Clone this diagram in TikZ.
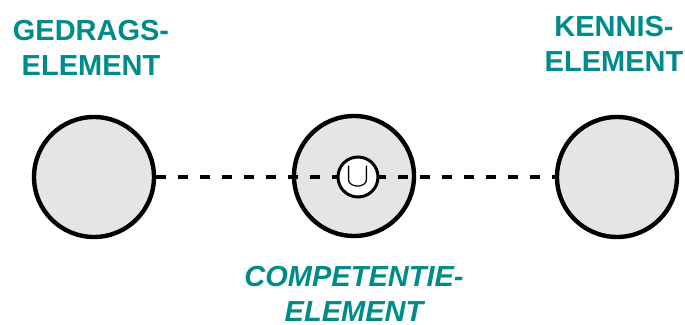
\documentclass[tikz,border=0pt]{standalone}
\usepackage{fontspec}
\setmainfont{Liberation Sans}
\usepackage{xcolor}
\usetikzlibrary{positioning}

\definecolor{elemteal}{RGB}{0,139,139}
\definecolor{ballgray}{RGB}{229,229,229}

\begin{document}
\begin{tikzpicture}[
  x=0.5pt, y=-0.5pt,
  ball/.style={
    circle, draw, line width=2.2pt, fill=ballgray,
    minimum size=60pt, inner sep=0pt
  },
  union/.style={
    circle, draw, line width=1.5pt, fill=white,
    minimum size=20pt, inner sep=0pt,
    font=\fontsize{17}{17}\selectfont
  },
  link/.style={line width=2.4pt, dash pattern=on 5pt off 6pt},
  lbl/.style={
    font=\fontsize{14.5}{17.5}\selectfont\bfseries, text=elemteal,
    align=center, anchor=north, inner sep=0pt
  },
  lblit/.style={lbl, font=\fontsize{14.5}{17.5}\selectfont\bfseries\itshape}
]
\useasboundingbox (0,0) rectangle (685,325);

% ---- the three elements ----
\node[ball] (gedrag) at (94,177) {};
\node[ball] (competentie) at (354,176) {};
\node[ball] (kennis) at (617,177) {};

% ---- dashed link, union on top ----
\draw[link] (gedrag) -- (kennis);
\node[union] (unie) at (358,177) {$\cup$};

% ---- labels ----
\node[lbl] (gedraglbl) at (91,20) {GEDRAGS-\\ELEMENT};
\node[lbl] (kennislbl) at (614,16) {KENNIS-\\ELEMENT};
\node[lblit] (complbl) at (354,266) {COMPETENTIE-\\ELEMENT};

\end{tikzpicture}
\end{document}
